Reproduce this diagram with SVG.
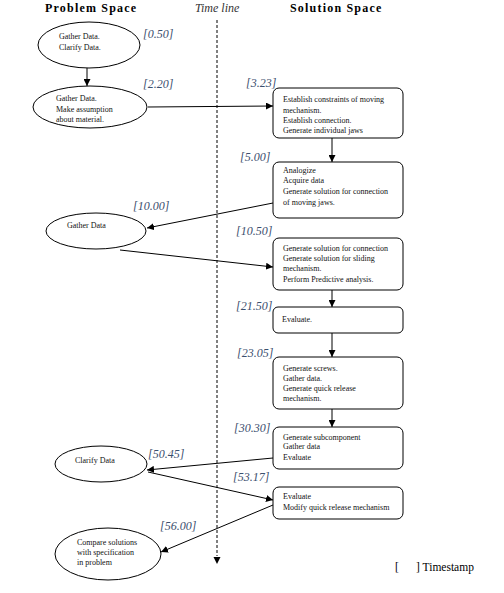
<svg xmlns="http://www.w3.org/2000/svg" width="504" height="593" viewBox="0 0 504 593">
<style>
.title{font-family:"Liberation Serif",serif;font-size:12px;font-weight:bold;letter-spacing:1.2px;fill:#000}
.tl{font-family:"Liberation Serif",serif;font-size:12px;font-style:italic;fill:#333}
.t{font-family:"Liberation Serif",serif;font-size:8px;fill:#111}
.ts{font-family:"Liberation Serif",serif;font-size:12px;font-style:italic;fill:#3b4f6e}
.node{fill:#fff;stroke:#000;stroke-width:1}
.c{fill:none;stroke:#000;stroke-width:1;marker-end:url(#ah)}
.leg{font-family:"Liberation Serif",serif;font-size:11.5px;fill:#000;white-space:pre}
</style>
<defs>
<marker id="ah" viewBox="0 0 10 10" refX="10" refY="5" markerWidth="7" markerHeight="7" markerUnits="userSpaceOnUse" orient="auto">
<path d="M0,0 L10,5 L0,10 z" fill="#000"/>
</marker>
</defs>
<rect width="504" height="593" fill="#fff"/>
<text class="title" x="45" y="12">Problem Space</text>
<text class="tl" x="195" y="12">Time line</text>
<text class="title" x="290" y="12">Solution Space</text>

<g id="timeline">
<line x1="217" y1="20" x2="217" y2="556" stroke="#000" stroke-width="1" stroke-dasharray="3,2"/>
<path d="M213.5,557 L220.5,557 L217,564 z" fill="#000"/>
</g>

<g id="connectors">
<line class="c" x1="87" y1="68" x2="87" y2="86"/>
<line class="c" x1="148" y1="107" x2="273" y2="106"/>
<line class="c" x1="332" y1="138" x2="332" y2="162"/>
<line class="c" x1="273" y1="203" x2="147" y2="228"/>
<line class="c" x1="120" y1="250" x2="273" y2="267"/>
<line class="c" x1="332" y1="290" x2="332" y2="307"/>
<line class="c" x1="332" y1="333" x2="332" y2="357"/>
<line class="c" x1="332" y1="409" x2="332" y2="427"/>
<line class="c" x1="273" y1="458" x2="147" y2="470"/>
<line class="c" x1="148" y1="472" x2="273" y2="500"/>
<line class="c" x1="273" y1="505" x2="161" y2="552"/>
</g>

<g id="labels">
<text class="ts" x="143" y="38">[0.50]</text>
<text class="ts" x="143" y="88">[2.20]</text>
<text class="ts" x="246" y="87">[3.23]</text>
<text class="ts" x="240" y="161">[5.00]</text>
<text class="ts" x="133" y="210">[10.00]</text>
<text class="ts" x="236" y="235">[10.50]</text>
<text class="ts" x="236" y="310">[21.50]</text>
<text class="ts" x="237" y="357">[23.05]</text>
<text class="ts" x="234" y="432">[30.30]</text>
<text class="ts" x="148" y="458">[50.45]</text>
<text class="ts" x="233" y="481">[53.17]</text>
<text class="ts" x="160" y="530">[56.00]</text>
</g>

<g id="p1">
<ellipse class="node" cx="89" cy="45" rx="51" ry="23"/>
<text class="t" x="59" y="39">Gather Data.</text>
<text class="t" x="59" y="50">Clarify Data.</text>
</g>
<g id="p2">
<ellipse class="node" cx="90" cy="107" rx="57" ry="21"/>
<text class="t" x="56" y="101">Gather Data.</text>
<text class="t" x="56" y="112">Make assumption</text>
<text class="t" x="56" y="122">about material.</text>
</g>
<g id="p3">
<ellipse class="node" cx="96" cy="231" rx="50" ry="18"/>
<text class="t" x="67" y="228">Gather Data</text>
</g>
<g id="p4">
<ellipse class="node" cx="101" cy="464" rx="46" ry="18"/>
<text class="t" x="75" y="463">Clarify Data</text>
</g>
<g id="p5">
<ellipse class="node" cx="108" cy="554" rx="53" ry="26"/>
<text class="t" x="77" y="545">Compare solutions</text>
<text class="t" x="77" y="555">with specification</text>
<text class="t" x="77" y="565">in problem</text>
</g>

<g id="s1">
<rect class="node" x="273" y="88" width="130" height="50" rx="6"/>
<text class="t" x="283" y="102">Establish constraints of moving</text>
<text class="t" x="283" y="113">mechanism.</text>
<text class="t" x="283" y="123">Establish connection.</text>
<text class="t" x="283" y="133">Generate individual jaws</text>
</g>
<g id="s2">
<rect class="node" x="273" y="162" width="130" height="56" rx="6"/>
<text class="t" x="283" y="173">Analogize</text>
<text class="t" x="283" y="183">Acquire data</text>
<text class="t" x="283" y="194">Generate solution for connection</text>
<text class="t" x="283" y="205">of moving jaws.</text>
</g>
<g id="s3">
<rect class="node" x="273" y="238" width="130" height="52" rx="6"/>
<text class="t" x="283" y="251">Generate solution for connection</text>
<text class="t" x="283" y="261">Generate solution for sliding</text>
<text class="t" x="283" y="271">mechanism.</text>
<text class="t" x="283" y="282">Perform Predictive analysis.</text>
</g>
<g id="s4">
<rect class="node" x="273" y="307" width="130" height="26" rx="5"/>
<text class="t" x="282" y="322">Evaluate.</text>
</g>
<g id="s5">
<rect class="node" x="273" y="357" width="130" height="52" rx="6"/>
<text class="t" x="283" y="371">Generate screws.</text>
<text class="t" x="283" y="381">Gather data.</text>
<text class="t" x="283" y="391">Generate quick release</text>
<text class="t" x="283" y="401">mechanism.</text>
</g>
<g id="s6">
<rect class="node" x="273" y="427" width="130" height="42" rx="6"/>
<text class="t" x="283" y="440">Generate subcomponent</text>
<text class="t" x="283" y="449">Gather data</text>
<text class="t" x="283" y="460">Evaluate</text>
</g>
<g id="s7">
<rect class="node" x="273" y="487" width="130" height="32" rx="6"/>
<text class="t" x="283" y="499">Evaluate</text>
<text class="t" x="283" y="510">Modify quick release mechanism</text>
</g>

<text class="leg" x="395" y="571">[      ] Timestamp</text>
</svg>
